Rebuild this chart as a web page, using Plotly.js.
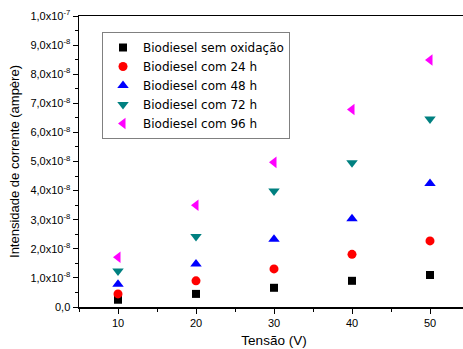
<!DOCTYPE html>
<html><head><meta charset="utf-8">
<script src="https://cdn.plot.ly/plotly-3.0.1.min.js"></script>
<style>html,body{margin:0;padding:0;overflow:hidden;width:463px;height:349px;background:#fff}#plot{width:469px;height:349px}</style>
</head><body><div id="plot"></div>
<script>
const tensao = [10, 20, 30, 40, 50];
const semOxidacao = [0.25e-8, 0.45e-8, 0.66e-8, 0.90e-8, 1.10e-8];
const com24h = [0.45e-8, 0.90e-8, 1.31e-8, 1.81e-8, 2.27e-8];
const com48h = [0.78e-8, 1.48e-8, 2.33e-8, 3.03e-8, 4.24e-8];
const com72h = [1.24e-8, 2.42e-8, 3.99e-8, 4.96e-8, 6.46e-8];
const com96h = [1.71e-8, 3.50e-8, 4.97e-8, 6.79e-8, 8.49e-8];
const seriesNames = ['Biodiesel sem oxidação','Biodiesel com 24 h','Biodiesel com 48 h','Biodiesel com 72 h','Biodiesel com 96 h'];
const yTickVals = [0,1e-8,2e-8,3e-8,4e-8,5e-8,6e-8,7e-8,8e-8,9e-8,1e-7];
const yTickText = ['0,0','1,0x10<sup>-8</sup>','2,0x10<sup>-8</sup>','3,0x10<sup>-8</sup>','4,0x10<sup>-8</sup>','5,0x10<sup>-8</sup>','6,0x10<sup>-8</sup>','7,0x10<sup>-8</sup>','8,0x10<sup>-8</sup>','9,0x10<sup>-8</sup>','1,0x10<sup>-7</sup>'];

const ys = [semOxidacao, com24h, com48h, com72h, com96h];
const symbols = ['square','circle','triangle-up','triangle-down','triangle-left'];
const colors = ['#000000','#ff0000','#0000ff','#008080','#ff00ff'];
const sizes = [8,9,10,10,10];
const data = ys.map((y,i)=>({x:tensao,y:y,type:'scatter',mode:'markers',name:seriesNames[i],
  marker:{symbol:symbols[i],color:colors[i],size:sizes[i],line:{width:0}}}));

const font = {family:'"Liberation Sans", Arial, sans-serif', color:'#000'};
const layout = {
  width:469, height:349,
  margin:{l:79,r:0,t:16,b:42},
  paper_bgcolor:'#fff', plot_bgcolor:'#fff',
  font:font,
  showlegend:true,
  legend:{x:0.059,y:0.945,xanchor:'left',yanchor:'top',bordercolor:'#808080',borderwidth:1,
    bgcolor:'#fff',font:{family:'"DejaVu Sans", sans-serif',size:12,color:'#000'}},
  xaxis:{range:[5,55],tickvals:tensao,ticks:'outside',ticklen:5,tickwidth:1,tickcolor:'#000',
    showline:true,linecolor:'#000',linewidth:1.5,mirror:true,showgrid:false,zeroline:false,
    tickfont:{size:11},
    minor:{tickvals:[5,15,25,35,45,55],ticks:'outside',ticklen:3,tickcolor:'#000',showgrid:false},
    title:{text:'Tensão (V)',font:{size:13.5},standoff:8}},
  yaxis:{range:[0,1e-7],tickvals:yTickVals,ticktext:yTickText,ticks:'outside',ticklen:5,tickwidth:1,tickcolor:'#000',
    showline:true,linecolor:'#000',linewidth:1.5,mirror:true,showgrid:false,zeroline:false,
    tickfont:{size:11},
    minor:{tickvals:[0.5e-8,1.5e-8,2.5e-8,3.5e-8,4.5e-8,5.5e-8,6.5e-8,7.5e-8,8.5e-8,9.5e-8],ticks:'outside',ticklen:3,tickcolor:'#000',showgrid:false},
    title:{text:'Intensidade de corrente (ampère)',font:{size:13},standoff:8}}
};
Plotly.newPlot('plot',data,layout,{displayModeBar:false,staticPlot:true});
</script></body></html>
